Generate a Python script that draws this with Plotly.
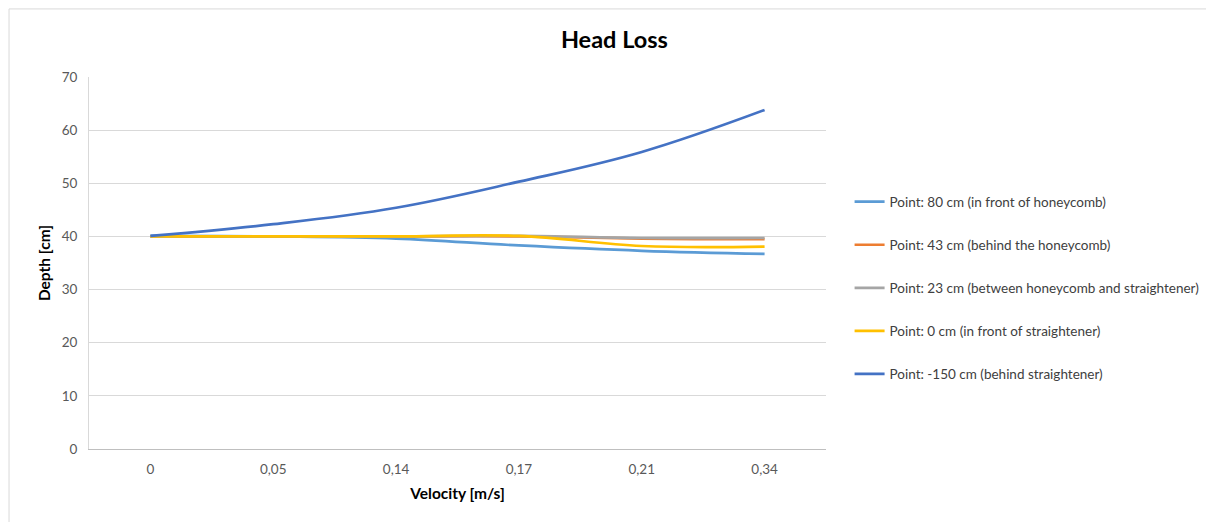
import plotly.graph_objects as go

velocity = ["0", "0,05", "0,14", "0,17", "0,21", "0,34"]
names = [
    "Point: 80 cm (in front of honeycomb)",
    "Point: 43 cm (behind the honeycomb)",
    "Point: 23 cm (between honeycomb and straightener)",
    "Point: 0 cm (in front of straightener)",
    "Point: -150 cm (behind straightener)",
]
p80 = [40.1, 40.0, 39.6, 38.3, 37.3, 36.7]
p43 = [40.0, 40.0, 40.0, 40.0, 39.6, 39.5]
p23 = [40.0, 40.0, 40.0, 40.1, 39.7, 39.7]
p0 = [40.0, 40.0, 40.0, 40.1, 38.2, 38.1]
pm150 = [40.1, 42.3, 45.4, 50.3, 55.9, 63.8]
colors = ["#5B9BD5", "#ED7D31", "#A5A5A5", "#FFC000", "#4472C4"]
series = [p80, p43, p23, p0, pm150]

FONT = "Lato, Open Sans, sans-serif"

fig = go.Figure()
for i, (nm, vals) in enumerate(zip(names, series)):
    fig.add_trace(go.Scatter(
        x=velocity, y=vals, name=nm, mode="lines",
        line=dict(color=colors[i], width=2.7, shape="spline", smoothing=1.1),
        legendgroup=f"g{i}",
    ))

fig.update_layout(
    width=1214, height=522,
    margin=dict(l=81, r=396, t=69, b=81, autoexpand=False),
    paper_bgcolor="white", plot_bgcolor="white",
    font=dict(family=FONT, color="#595959", size=13),
    title=dict(text="<b>Head Loss</b>", x=0.4995, xanchor="center", y=0.939, yanchor="middle",
               font=dict(size=23.5, color="#000000", family=FONT)),
    showlegend=True,
    legend=dict(x=1.032, xanchor="left", y=0.433, yanchor="middle",
                font=dict(size=13.5, color="#404040", family=FONT),
                tracegroupgap=22.5, bgcolor="rgba(0,0,0,0)"),
    shapes=[dict(type="rect", xref="paper", yref="paper", x0=-0.1085, x1=1.7, y0=-0.3, y1=1.183,
                 line=dict(color="#D9D9D9", width=1), fillcolor="rgba(0,0,0,0)", layer="below")],
)
fig.update_xaxes(
    type="category", range=[-0.5, 5.5],
    showgrid=False, showline=True, linecolor="#BFBFBF", linewidth=1,
    ticks="", ticklabelstandoff=8, tickfont=dict(size=13.5, color="#595959"),
    title=dict(text="<b>Velocity [m/s]</b>", font=dict(size=15.5, color="#000000"), standoff=11),
)
fig.update_yaxes(
    range=[0, 70], dtick=10, showgrid=True, gridcolor="#D9D9D9", gridwidth=1,
    showline=True, linecolor="#D9D9D9", zeroline=False,
    ticks="", ticklabelstandoff=8, tickfont=dict(size=13.5, color="#595959"),
    title=dict(text="<b>Depth [cm]</b>", font=dict(size=15.5, color="#000000"), standoff=7),
)
fig.write_html("out.html")
